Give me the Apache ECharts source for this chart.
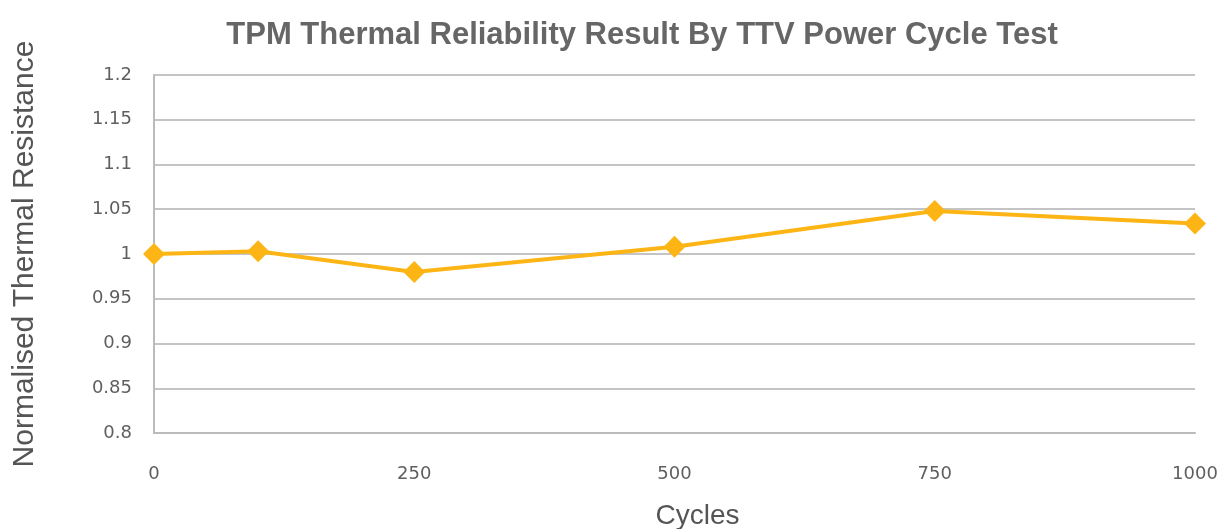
<!DOCTYPE html>
<html>
<head>
<meta charset="utf-8">
<script src="https://cdn.jsdelivr.net/npm/echarts@6/dist/echarts.min.js"></script>
<style>
  html, body { margin: 0; padding: 0; background: #fff; }
  #chart { width: 1232px; height: 529px; }
</style>
</head>
<body>
<div id="chart"></div>
<script>
// cycles and normalised thermal resistance
const cycles = [0, 100, 250, 500, 750, 1000];
const resistance = [1.0, 1.003, 0.98, 1.008, 1.048, 1.034];

const chart = echarts.init(document.getElementById('chart'));

const option = {
  backgroundColor: '#fff',
  textStyle: { fontFamily: 'Liberation Sans, Arial, sans-serif' },
  title: {
    text: 'TPM Thermal Reliability Result By TTV Power Cycle Test',
    left: 637,
    top: 15,
    textAlign: 'center',
    textStyle: { color: '#666', fontSize: 31, fontWeight: 'bold' }
  },
  grid: { left: 154, right: 37, top: 75, bottom: 96, outerBoundsMode: 'none', containLabel: false },
  xAxis: {
    type: 'value',
    min: 0,
    max: 1000,
    interval: 250,
    name: 'Cycles',
    nameLocation: 'middle',
    nameGap: 69,
    nameTextStyle: { color: '#555', fontSize: 28, padding: [0, 0, 0, 46] },
    axisLine: { show: true, lineStyle: { color: '#bbb', width: 2 } },
    axisTick: { show: false },
    splitLine: { show: false },
    axisLabel: {
      color: '#5f5f5f',
      fontSize: 18,
      fontFamily: 'DejaVu Sans',
      margin: 32,
      formatter: v => String(v)
    }
  },
  yAxis: {
    type: 'value',
    min: 0.8,
    max: 1.2,
    interval: 0.05,
    name: 'Normalised Thermal Resistance',
    nameLocation: 'middle',
    nameGap: 114,
    nameTextStyle: { color: '#555', fontSize: 30 },
    axisLine: { show: true, lineStyle: { color: '#bbb', width: 2 } },
    axisTick: { show: false },
    splitLine: { lineStyle: { color: '#c4c4c4', width: 2 } },
    axisLabel: {
      color: '#5f5f5f',
      fontSize: 18,
      fontFamily: 'DejaVu Sans',
      margin: 22,
      formatter: v => String(parseFloat(v.toFixed(2)))
    }
  },
  series: [
    {
      type: 'line',
      data: cycles.map((c, i) => [c, resistance[i]]),
      symbol: 'diamond',
      symbolSize: 22,
      lineStyle: { color: '#FDB515', width: 4 },
      itemStyle: { color: '#FDB515' },
      animation: false
    }
  ]
};

chart.setOption(option);
</script>
</body>
</html>
